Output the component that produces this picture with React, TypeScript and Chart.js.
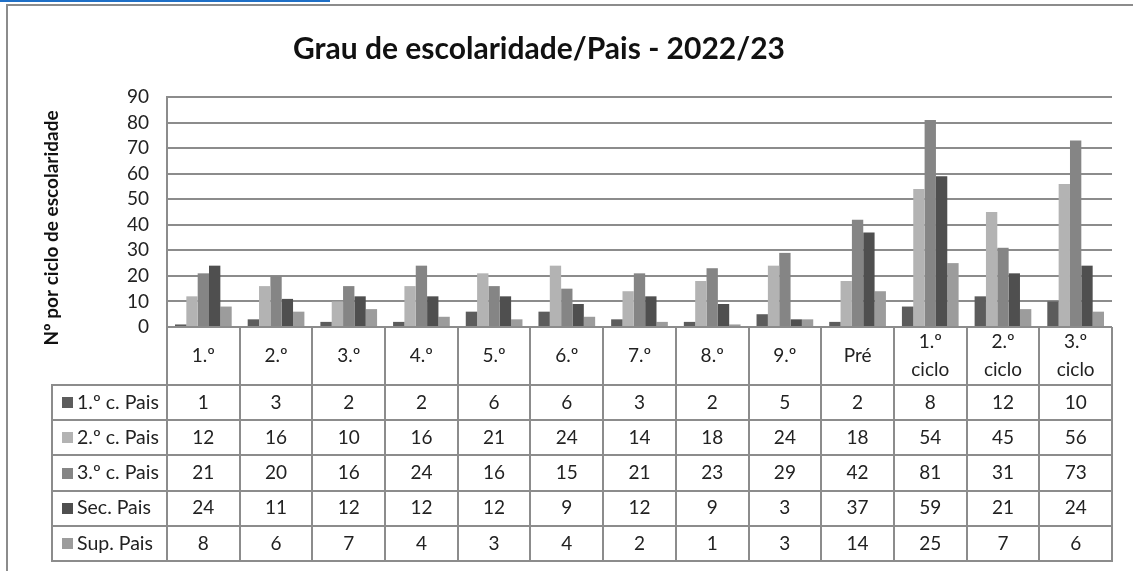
import React, { useEffect, useRef } from "react";
import { Chart, registerables } from "chart.js";

Chart.register(...registerables);

const categories: string[][] = [
  ["1.º"], ["2.º"], ["3.º"], ["4.º"], ["5.º"], ["6.º"], ["7.º"], ["8.º"], ["9.º"], ["Pré"],
  ["1.º", "ciclo"], ["2.º", "ciclo"], ["3.º", "ciclo"],
];
const seriesNames = ["1.º c. Pais", "2.º c. Pais", "3.º c. Pais", "Sec. Pais", "Sup. Pais"];
const primeiroCiclo = [1, 3, 2, 2, 6, 6, 3, 2, 5, 2, 8, 12, 10];
const segundoCiclo = [12, 16, 10, 16, 21, 24, 14, 18, 24, 18, 54, 45, 56];
const terceiroCiclo = [21, 20, 16, 24, 16, 15, 21, 23, 29, 42, 81, 31, 73];
const secundario = [24, 11, 12, 12, 12, 9, 12, 9, 3, 37, 59, 21, 24];
const superior = [8, 6, 7, 4, 3, 4, 2, 1, 3, 14, 25, 7, 6];
const seriesColors = ["#5c5c5c", "#b3b3b3", "#858585", "#4f4f4f", "#9c9c9c"];
const yMin = 0;
const yMax = 90;
const yStep = 10;
const chartTitle = "Grau de escolaridade/Pais - 2022/23";
const yAxisTitle = "Nº por ciclo de escolaridade";

const FONT = "Lato, 'Liberation Sans', sans-serif";
const LINE = "#8c8c8c";

export default function App() {
  const ref = useRef<HTMLCanvasElement | null>(null);

  useEffect(() => {
    if (!ref.current) return;
    const allSeries = [primeiroCiclo, segundoCiclo, terceiroCiclo, secundario, superior];

    const decor = {
      id: "decor",
      beforeDraw(chart: any) {
        const ctx = chart.ctx;
        ctx.save();
        ctx.fillStyle = "#ffffff";
        ctx.fillRect(0, 0, chart.width, chart.height);
        ctx.fillStyle = "#1f6fc6";
        ctx.fillRect(0, 0, 330, 2);
        ctx.fillStyle = LINE;
        ctx.fillRect(6, 4, chart.width - 6, 2);
        ctx.fillRect(6, 4, 2, chart.height - 4);
        ctx.restore();
      },
      afterDraw(chart: any) {
        const ctx = chart.ctx;
        const area = chart.chartArea;
        const xs = chart.scales.x;
        const n = categories.length;
        const headerTop = area.bottom;
        const headerBottom = headerTop + 58;
        const rowH = 35.2;
        const tableBottom = headerBottom + rowH * allSeries.length;
        const legendLeft = 52;

        const bounds: number[] = [area.left];
        for (let i = 1; i < n; i++) {
          bounds.push((xs.getPixelForValue(i - 1) + xs.getPixelForValue(i)) / 2);
        }
        bounds.push(area.right);

        ctx.save();
        ctx.strokeStyle = LINE;
        ctx.lineWidth = 2;
        ctx.beginPath();
        bounds.forEach((bx) => {
          const x = Math.round(bx);
          ctx.moveTo(x, headerTop);
          ctx.lineTo(x, tableBottom);
        });
        ctx.moveTo(legendLeft, headerBottom);
        ctx.lineTo(legendLeft, tableBottom);
        for (let r = 0; r <= allSeries.length; r++) {
          const y = Math.round(headerBottom + r * rowH);
          ctx.moveTo(legendLeft - 1, y);
          ctx.lineTo(area.right + 1, y);
        }
        ctx.stroke();

        ctx.fillStyle = "#222222";
        ctx.textAlign = "center";
        ctx.textBaseline = "middle";
        ctx.font = `19px ${FONT}`;
        const hMid = (headerTop + headerBottom) / 2;
        categories.forEach((lines, i) => {
          const cx = xs.getPixelForValue(i);
          const lh = 28;
          const start = hMid - ((lines.length - 1) * lh) / 2;
          lines.forEach((t, k) => ctx.fillText(t, cx, start + k * lh));
        });

        allSeries.forEach((vals, r) => {
          const cy = headerBottom + r * rowH + rowH / 2;
          ctx.textAlign = "center";
          ctx.fillStyle = "#222222";
          ctx.font = `19px ${FONT}`;
          vals.forEach((v, i) => ctx.fillText(String(v), xs.getPixelForValue(i), cy));
          ctx.fillStyle = seriesColors[r];
          ctx.fillRect(62, Math.round(cy - 5.5), 11, 11);
          ctx.fillStyle = "#222222";
          ctx.textAlign = "left";
          ctx.font = `19.5px ${FONT}`;
          ctx.fillText(seriesNames[r], 77, cy);
        });

        ctx.fillStyle = "#111111";
        ctx.textAlign = "center";
        ctx.font = `bold 30px ${FONT}`;
        ctx.fillText(chartTitle, 539, 49);

        ctx.translate(52, 228);
        ctx.rotate(-Math.PI / 2);
        ctx.font = `bold 19px ${FONT}`;
        ctx.fillText(yAxisTitle, 0, 0);
        ctx.restore();
      },
    };

    const chart = new Chart(ref.current, {
      type: "bar",
      data: {
        labels: categories.map((c) => c.join(" ")),
        datasets: allSeries.map((vals, i) => ({
          label: seriesNames[i],
          data: vals,
          backgroundColor: seriesColors[i],
          borderWidth: 0,
          categoryPercentage: 0.78,
          barPercentage: 1.0,
        })),
      },
      options: {
        responsive: false,
        maintainAspectRatio: false,
        animation: false,
        layout: { padding: { left: 0, right: 21, top: 97, bottom: 244 } },
        plugins: {
          legend: { display: false },
          title: { display: false },
          tooltip: { enabled: false },
        },
        scales: {
          x: { display: false },
          y: {
            min: yMin,
            max: yMax,
            ticks: {
              stepSize: yStep,
              autoSkip: false,
              color: "#222222",
              padding: 18,
              font: { family: FONT, size: 19 },
            },
            grid: { color: LINE, lineWidth: 2, drawTicks: false },
            border: { display: true, color: LINE, width: 2 },
            afterFit(scale: any) {
              scale.width = 167;
            },
          },
        },
      },
      plugins: [decor],
    });
    return () => chart.destroy();
  }, []);

  return (
    <div style={{ position: "absolute", left: 0, top: 0, width: 1133, height: 571 }}>
      <canvas ref={ref} width={1133} height={571} />
    </div>
  );
}
